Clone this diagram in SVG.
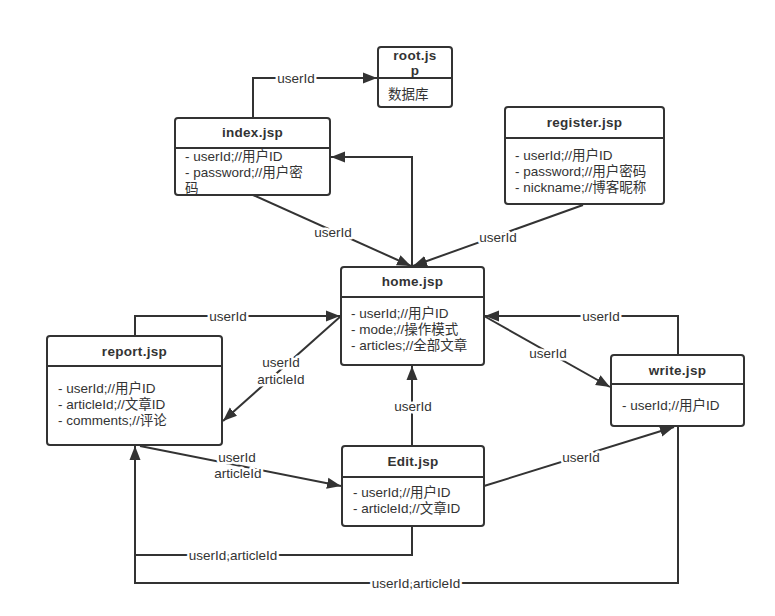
<svg xmlns="http://www.w3.org/2000/svg" width="775" height="616" viewBox="0 0 775 616">
<style>
.box{fill:#fff;stroke:#333;stroke-width:2}
.div{stroke:#333;stroke-width:2}
.t{font-family:"Liberation Sans","Noto Sans CJK SC",sans-serif;font-size:13.5px;font-weight:bold;fill:#333;text-anchor:middle;letter-spacing:0.3px}
.b{font-family:"Liberation Sans","Noto Sans CJK SC",sans-serif;font-size:13.5px;fill:#333}
.e{fill:none;stroke:#333;stroke-width:2}
.l{font-family:"Liberation Sans","Noto Sans CJK SC",sans-serif;font-size:13.5px;fill:#333;text-anchor:middle;dominant-baseline:central;stroke:#fff;stroke-width:5;paint-order:stroke;stroke-linejoin:round}
</style>
<defs>
<marker id="ah" markerUnits="userSpaceOnUse" markerWidth="15" markerHeight="12" refX="14" refY="6" orient="auto">
<path d="M0,0.5 L14,6 L0,11.5 Z" fill="#333"/>
</marker>
</defs>
<rect width="775" height="616" fill="#fff"/>
<g id="connectors">
<path class="e" d="M253,118 V78 H377" marker-end="url(#ah)"/>
<path class="e" d="M412,267 V157 H331" marker-end="url(#ah)"/>
<path class="e" d="M253,195 L411,266" marker-end="url(#ah)"/>
<path class="e" d="M583,205 L413,266" marker-end="url(#ah)"/>
<path class="e" d="M135,336 V316 H340" marker-end="url(#ah)"/>
<path class="e" d="M341,316 L223,421" marker-end="url(#ah)"/>
<path class="e" d="M678,355 V316 H485" marker-end="url(#ah)"/>
<path class="e" d="M484,316 L610,387" marker-end="url(#ah)"/>
<path class="e" d="M412,446 V366" marker-end="url(#ah)"/>
<path class="e" d="M140,446 L341,486" marker-end="url(#ah)"/>
<path class="e" d="M484,486 L674,427" marker-end="url(#ah)"/>
<path class="e" d="M412,526 V555 H135 V446" marker-end="url(#ah)"/>
<path class="e" d="M678,426 V583 H135 V555"/>
<text class="l" x="296" y="78">userId</text>
<text class="l" x="333" y="232">userId</text>
<text class="l" x="498" y="237">userId</text>
<text class="l" x="228" y="316">userId</text>
<text class="l" x="281" y="362">userId</text>
<text class="l" x="281" y="379">articleId</text>
<text class="l" x="601" y="316">userId</text>
<text class="l" x="548" y="353">userId</text>
<text class="l" x="413" y="406">userId</text>
<text class="l" x="237" y="457">userId</text>
<text class="l" x="238" y="473">articleId</text>
<text class="l" x="581" y="457">userId</text>
<text class="l" x="233" y="555">userId,articleId</text>
<text class="l" x="416" y="583">userId,articleId</text>
</g>
<g id="root">
<rect class="box" x="378" y="47" width="74" height="60" rx="3"/>
<line class="div" x1="378" y1="78" x2="452" y2="78"/>
<text class="t" x="415" y="60">root.js</text>
<text class="t" x="415" y="75">p</text>
<text class="b" x="388" y="99">数据库</text>
</g>
<g id="index">
<rect class="box" x="175" y="118" width="155" height="77" rx="3"/>
<line class="div" x1="175" y1="148" x2="330" y2="148"/>
<text class="t" x="252.5" y="137">index.jsp</text>
<text class="b" x="185" y="161">- userId;//用户ID</text>
<text class="b" x="185" y="177">- password;//用户密</text>
<text class="b" x="185" y="193">码</text>
</g>
<g id="register">
<rect class="box" x="505" y="107" width="159" height="97" rx="3"/>
<line class="div" x1="505" y1="138" x2="664" y2="138"/>
<text class="t" x="584.5" y="127">register.jsp</text>
<text class="b" x="515" y="160">- userId;//用户ID</text>
<text class="b" x="515" y="176">- password;//用户密码</text>
<text class="b" x="515" y="192">- nickname;//博客昵称</text>
</g>
<g id="home">
<rect class="box" x="341" y="267" width="143" height="98" rx="3"/>
<line class="div" x1="341" y1="297" x2="484" y2="297"/>
<text class="t" x="412.5" y="286">home.jsp</text>
<text class="b" x="351" y="318">- userId;//用户ID</text>
<text class="b" x="351" y="334">- mode;//操作模式</text>
<text class="b" x="351" y="350">- articles;//全部文章</text>
</g>
<g id="report">
<rect class="box" x="47" y="336" width="175" height="109" rx="3"/>
<line class="div" x1="47" y1="366" x2="222" y2="366"/>
<text class="t" x="134.5" y="356">report.jsp</text>
<text class="b" x="58" y="393">- userId;//用户ID</text>
<text class="b" x="58" y="409">- articleId;//文章ID</text>
<text class="b" x="58" y="425">- comments;//评论</text>
</g>
<g id="write">
<rect class="box" x="611" y="355" width="133" height="71" rx="3"/>
<line class="div" x1="611" y1="384" x2="744" y2="384"/>
<text class="t" x="677.5" y="375">write.jsp</text>
<text class="b" x="622" y="410">- userId;//用户ID</text>
</g>
<g id="edit">
<rect class="box" x="342" y="446" width="142" height="80" rx="3"/>
<line class="div" x1="342" y1="477" x2="484" y2="477"/>
<text class="t" x="413" y="466">Edit.jsp</text>
<text class="b" x="353" y="497">- userId;//用户ID</text>
<text class="b" x="353" y="513">- articleId;//文章ID</text>
</g>
</svg>
